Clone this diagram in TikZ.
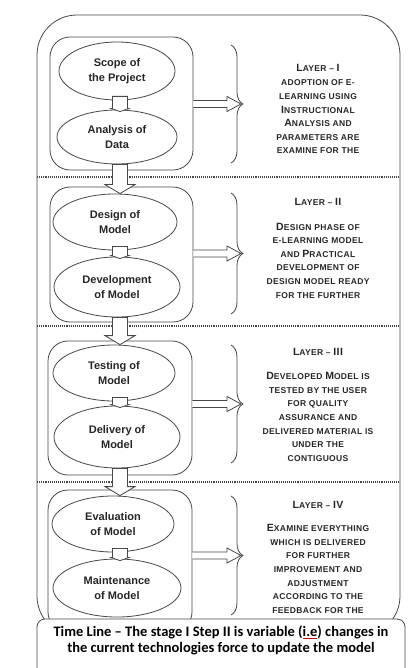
\documentclass[tikz,border=0pt]{standalone}
\usepackage{fontspec}
\setmainfont{Liberation Sans}
\newfontfamily\capfont[LetterSpace=4]{Liberation Sans}
\newfontfamily\tlfont{Carlito}
\usetikzlibrary{calc,shapes.geometric,decorations.pathreplacing}
\newcommand\BC[1]{{\fontsize{10.5}{13.6}\selectfont #1}}
\newcommand\redul[1]{\setbox0\hbox{#1}\rlap{\color{red!80!black}\rule[-2pt]{\wd0}{0.6pt}}\box0}
\colorlet{lc}{black!72}
\colorlet{tc}{black!85}
\tikzset{
  ln/.style={draw=lc, line width=0.8pt},
  sep/.style={draw=lc, line width=1.1pt, densely dotted},
  grp/.style={ln, rounded corners=20pt, inner sep=0pt},
  ell/.style={ln, ellipse, fill=white, inner sep=1pt, text=tc, align=center,
    font=\bfseries\fontsize{11}{15.5}\selectfont},
  blk/.style={ln, fill=white},
  brc/.style={ln, decorate, decoration={brace, amplitude=12pt}},
  hdr/.style={text=tc, font=\capfont\bfseries\fontsize{8.5}{13.6}\selectfont},
  body/.style={text=tc, align=center, font=\capfont\bfseries\fontsize{8.5}{13.6}\selectfont}
}
\begin{document}
\begin{tikzpicture}[x=1pt,y=-1pt]
\useasboundingbox (0,0) rectangle (408,668);
% outer frame
\draw[ln, rounded corners=40pt] (37,15) rectangle (400,636);
% separators
\draw[sep] (37,177) -- (400,177);
\draw[sep] (37,326) -- (400,326);
\draw[sep] (37,482) -- (400,482);
% groups
\node[grp, minimum width=143pt, minimum height=133pt] (g1) at (121.5,103.5) {};
\node[grp, minimum width=143pt, minimum height=135pt] (g2) at (121.5,254.5) {};
\node[grp, minimum width=144pt, minimum height=134pt] (g3) at (120,408) {};
\node[grp, minimum width=144pt, minimum height=142pt] (g4) at (120,561) {};
% ellipses
\node[ell, minimum width=116pt, minimum height=58pt] (scope) at (117,71) {Scope of\\the Project};
\node[ell, minimum width=120pt, minimum height=54pt] (anal) at (117,137) {Analysis of\\Data};
\node[ell, minimum width=124pt, minimum height=56pt] (design) at (115,222) {Design of\\Model};
\node[ell, minimum width=126pt, minimum height=60pt] (devel) at (117,287) {Development\\of Model};
\node[ell, minimum width=122pt, minimum height=56pt] (test) at (114,373) {Testing of\\Model};
\node[ell, minimum width=126pt, minimum height=62pt] (deliv) at (117,437) {Delivery of\\Model};
\node[ell, minimum width=122pt, minimum height=56pt] (eval) at (113,524) {Evaluation\\of Model};
\node[ell, minimum width=128pt, minimum height=58pt] (maint) at (117,588) {Maintenance\\of Model};
% small connectors inside groups
\foreach \a/\b in {scope/anal, design/devel, test/deliv, eval/maint}{
  \draw[blk] let \p1=(\a.south), \p2=(\b.north) in
    (120pt-7.5pt,\y1+4pt) -- (120pt+7.5pt,\y1+4pt) -- (120pt+7.5pt,\y2+1pt)
    -- (120pt+8.5pt,\y2+1pt) -- (120pt,\y2-2pt) -- (120pt-8.5pt,\y2+1pt)
    -- (120pt-7.5pt,\y2+1pt) -- cycle;
}
% block arrows between groups
\foreach \a/\b in {anal/design, devel/test, deliv/eval}{
  \draw[blk] let \p1=(\a.south), \p2=(\b.north) in
    (120pt-7.5pt,\y1) -- (120pt+7.5pt,\y1) -- (120pt+7.5pt,\y2+9pt)
    -- (120pt+15pt,\y2+9pt) -- (120pt,\y2) -- (120pt-15pt,\y2+9pt)
    -- (120pt-7.5pt,\y2+9pt) -- cycle;
}
% braces
\coordinate (b1) at (241,104);
\coordinate (b2) at (241,253.5);
\coordinate (b3) at (241,404);
\coordinate (b4) at (241,555.5);
\draw[brc] (231,45) -- (231,163);
\draw[brc] (231,193) -- (231,314);
\draw[brc] (231,345) -- (231,463);
\draw[brc] (231,496) -- (231,615);
% horizontal arrows
\foreach \g/\b in {g1/b1, g2/b2, g3/b3, g4/b4}{
  \draw[blk] let \p1=(\g.east), \p2=(\b) in
    (\x1,\y2+3.5pt) -- (\x2-14pt,\y2+3.5pt) -- (\x2-14pt,\y2+7.5pt) -- (\x2,\y2)
    -- (\x2-14pt,\y2-7.5pt) -- (\x2-14pt,\y2-3.5pt) -- (\x1,\y2-3.5pt);
}
% layer texts
\node[hdr] (h1) at (318,68) {\BC{L}AYER – \BC{I}};
\node[body] (t1) at (318,117) {ADOPTION OF E-\\LEARNING USING\\\BC{I}NSTRUCTIONAL\\\BC{A}NALYSIS AND\\PARAMETERS ARE\\EXAMINE FOR THE};
\node[hdr] (h2) at (318,202) {\BC{L}AYER – \BC{II}};
\node[body] (t2) at (318,260.5) {\BC{D}ESIGN PHASE OF\\E-LEARNING MODEL\\AND \BC{P}RACTICAL\\DEVELOPMENT OF\\DESIGN MODEL READY\\FOR THE FURTHER};
\node[hdr] (h3) at (318,352) {\BC{L}AYER – \BC{III}};
\node[body] (t3) at (318,417) {\BC{D}EVELOPED \BC{M}ODEL IS\\TESTED BY THE USER\\FOR QUALITY\\ASSURANCE AND\\DELIVERED MATERIAL IS\\UNDER THE\\CONTIGUOUS};
\node[hdr] (h4) at (318,505) {\BC{L}AYER – \BC{IV}};
\node[body] (t4) at (318,569) {\BC{E}XAMINE EVERYTHING\\WHICH IS DELIVERED\\FOR FURTHER\\IMPROVEMENT AND\\ADJUSTMENT\\ACCORDING TO THE\\FEEDBACK FOR THE};
% time line box
\draw[ln, fill=white, rounded corners=8pt] (37,672) -- (37,619) -- (405,619) -- (405,672);
\node[text=black, align=center, font=\tlfont\bfseries\fontsize{14.5}{16}\selectfont] (tl) at (221,640)
  {Time Line – The stage I Step II is variable (\redul{i.e}) changes in\\the current technologies force to update the model};
\end{tikzpicture}
\end{document}
